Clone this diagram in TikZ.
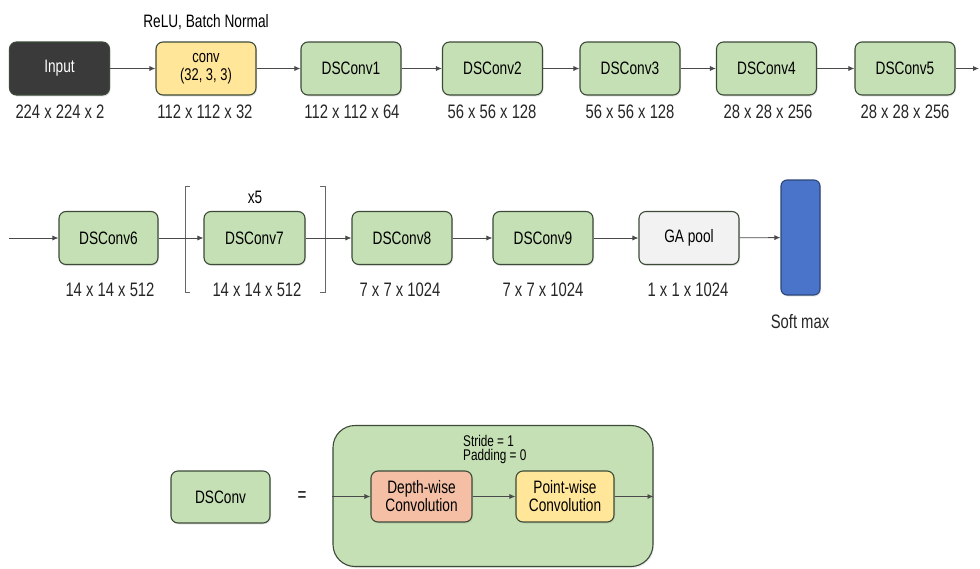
\documentclass[tikz,border=0pt]{standalone}
\usepackage{fontspec}
\setmainfont{Liberation Sans}[FakeStretch=0.76]
\usetikzlibrary{arrows.meta,shadows}

\definecolor{dsgreen}{HTML}{C5E0B4}
\definecolor{dsedge}{HTML}{3C4A38}
\definecolor{convyellow}{HTML}{FFE699}
\definecolor{inputgray}{HTML}{3A3A3A}
\definecolor{depthsalmon}{HTML}{F4BFA4}
\definecolor{poolgray}{HTML}{F2F2F2}
\definecolor{softblue}{HTML}{4A74C9}
\definecolor{softedge}{HTML}{2C4677}
\definecolor{linegray}{HTML}{4A4A4A}

\newcommand{\fsz}[1]{\fontsize{#1}{#1}\selectfont}

\tikzset{
  layer/.style={draw=dsedge, line width=1.1pt, rounded corners=7pt,
    minimum width=100pt, minimum height=53pt, align=center,
    font=\fsz{18}, inner sep=2pt,
    drop shadow={opacity=0.18, shadow xshift=1pt, shadow yshift=-1.5pt}},
  dsbox/.style={layer, fill=dsgreen},
  dimlabel/.style={font=\fsz{19.5}, text=black!85, inner sep=0pt},
  flow/.style={draw=linegray, line width=0.8pt, -{Latex[length=6pt,width=5pt]}},
  bracket/.style={draw=black!60, line width=0.9pt},
}

\begin{document}
\begin{tikzpicture}[x=1pt,y=-1pt]
  \useasboundingbox (0,0) rectangle (980,568);

  % ---- first row ----
  \node[layer, fill=inputgray, text=white] (input) at (59.5,68.5) {Input};
  \node[layer, fill=convyellow, font=\fsz{17}] (conv) at (206,68.5) {conv\\[1pt](32, 3, 3)};
  \node[dsbox] (ds1) at (351,68.5) {DSConv1};
  \node[dsbox] (ds2) at (492.5,68.5) {DSConv2};
  \node[dsbox] (ds3) at (630,68.5) {DSConv3};
  \node[dsbox] (ds4) at (766.5,68.5) {DSConv4};
  \node[dsbox] (ds5) at (905,68.5) {DSConv5};
  \coordinate (rowend) at (979,68.5);

  \node[font=\fsz{18}, inner sep=0pt] (relu) at (206,22) {ReLU, Batch Normal};

  \node[dimlabel] (l0) at (60,112) {224 x 224 x 2};
  \node[dimlabel] (l1) at (205,112) {112 x 112 x 32};
  \node[dimlabel] (l2) at (352,112) {112 x 112 x 64};
  \node[dimlabel] (l3) at (492,112) {56 x 56 x 128};
  \node[dimlabel] (l4) at (630,112) {56 x 56 x 128};
  \node[dimlabel] (l5) at (768,112) {28 x 28 x 256};
  \node[dimlabel] (l6) at (905,112) {28 x 28 x 256};

  \draw[flow] (input) -- (conv);
  \draw[flow] (conv) -- (ds1);
  \draw[flow] (ds1) -- (ds2);
  \draw[flow] (ds2) -- (ds3);
  \draw[flow] (ds3) -- (ds4);
  \draw[flow] (ds4) -- (ds5);
  \draw[flow] (ds5) -- (rowend);

  % ---- second row ----
  \coordinate (rowstart) at (9,238);
  \node[dsbox, minimum width=99pt] (ds6) at (108.5,238) {DSConv6};
  \node[dsbox, minimum width=101pt] (ds7) at (254.5,238) {DSConv7};
  \node[dsbox] (ds8) at (402,238) {DSConv8};
  \node[dsbox] (ds9) at (543,238) {DSConv9};
  \node[layer, fill=poolgray] (gap) at (689,238) {GA pool};
  \node[draw=softedge, fill=softblue, line width=1.1pt, rounded corners=6pt,
        minimum width=39pt, minimum height=115pt,
        drop shadow={opacity=0.18, shadow xshift=1pt, shadow yshift=-1.5pt}]
        (soft) at (800.5,237.5) {};

  \node[font=\fsz{18}, inner sep=0pt] (rep) at (255,197) {x5};
  \draw[bracket] (190,186) -- (185,186) -- (185,292) -- (190,292);
  \draw[bracket] (320,186) -- (325,186) -- (325,292) -- (320,292);

  \node[dimlabel] (m0) at (110,290) {14 x 14 x 512};
  \node[dimlabel] (m1) at (257,290) {14 x 14 x 512};
  \node[dimlabel] (m2) at (400,290) {7 x 7 x 1024};
  \node[dimlabel] (m3) at (543,290) {7 x 7 x 1024};
  \node[dimlabel] (m4) at (688,290) {1 x 1 x 1024};
  \node[dimlabel] (m5) at (800,322) {Soft max};

  \draw[flow] (rowstart) -- (ds6);
  \draw[flow] (ds6) -- (ds7);
  \draw[flow] (ds7) -- (ds8);
  \draw[flow] (ds8) -- (ds9);
  \draw[flow] (ds9) -- (gap);
  \draw[flow] (gap) -- (soft);

  % ---- DSConv definition ----
  \node[dsbox, minimum width=99pt, minimum height=52pt] (dsdef) at (220.5,497) {DSConv};
  \node[font=\fsz{20}, inner sep=0pt] (eq) at (302,497) {=};

  \node[draw=dsedge, fill=dsgreen, line width=1.1pt, rounded corners=22pt,
        minimum width=320pt, minimum height=141pt,
        drop shadow={opacity=0.18, shadow xshift=1pt, shadow yshift=-1.5pt}]
        (outer) at (493,496) {};
  \node[font=\fsz{15.5}, align=left, anchor=north west, inner sep=0pt] (params)
        at (463,435) {Stride = 1\\[-1pt]Padding = 0};

  \node[layer, fill=depthsalmon, minimum width=101pt, minimum height=51pt] (depth)
        at (421.5,496.5) {Depth-wise\\Convolution};
  \node[layer, fill=convyellow, minimum width=98pt, minimum height=51pt] (point)
        at (565,496.5) {Point-wise\\Convolution};

  \draw[flow] (outer.west |- depth) -- (depth);
  \draw[flow] (depth) -- (point);
  \draw[flow] (point) -- (outer.east |- point);
\end{tikzpicture}
\end{document}
